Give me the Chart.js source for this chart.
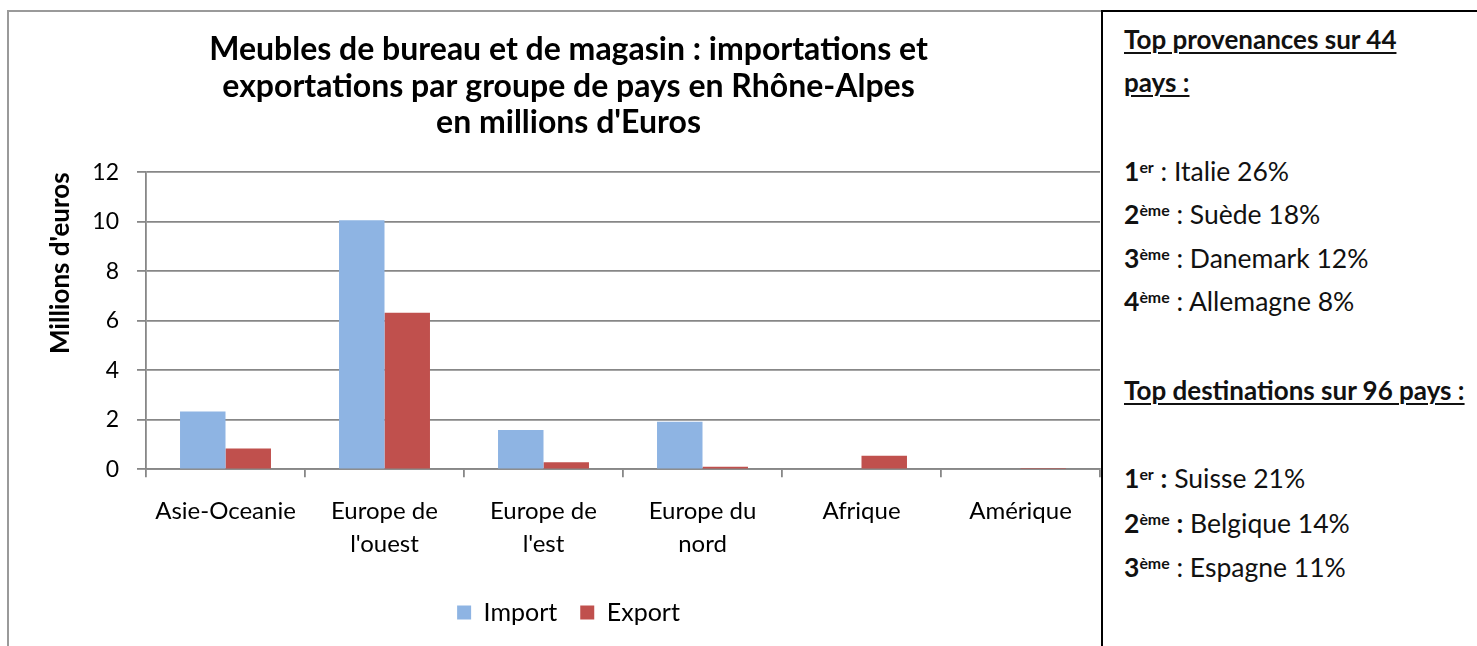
<!DOCTYPE html>
<html>
<head>
<meta charset="utf-8">
<script src="https://cdn.jsdelivr.net/npm/chart.js@4.4.1/dist/chart.umd.min.js"></script>
<style>
  html, body { margin: 0; padding: 0; background: #fff; width: 1477px; height: 646px; overflow: hidden; }
  #frame { position: absolute; left: 7px; top: 10px; width: 1100px; height: 700px; border: 2px solid #9a9a9a; box-sizing: border-box; }
  #wrap { position: absolute; left: 9px; top: 12px; width: 1119px; height: 634px; }
  #panel { position: absolute; left: 1101px; top: 10px; width: 376px; height: 640px; background: #fff;
           border-left: 2px solid #000; border-top: 2px solid #000; box-sizing: border-box; z-index: 2;
           font-family: Lato, "Open Sans", sans-serif; color: #111; }
  .ln { position: absolute; left: 21px; white-space: nowrap; font-size: 26.5px; line-height: 1; }
  .hd { font-weight: bold; font-size: 26px; text-decoration: underline; text-underline-offset: 3px; text-decoration-thickness: 2px; }
  .ln b { font-weight: bold; }
  .ln sup { font-size: 0.6em; font-weight: bold; vertical-align: 0.5em; line-height: 0; }
</style>
</head>
<body>
<div id="frame"></div>
<div id="wrap"><canvas id="c" width="1119" height="634"></canvas></div>
<div id="panel"></div>
<script>
const chartTitle = ["Meubles de bureau et de magasin : importations et", "exportations par groupe de pays en Rhône-Alpes", "en millions d'Euros"];
const yAxisTitle = "Millions d'euros";
const categories = [["Asie-Oceanie"], ["Europe de", "l'ouest"], ["Europe de", "l'est"], ["Europe du", "nord"], ["Afrique"], ["Amérique"]];
const seriesNames = ["Import", "Export"];
const importValues = [2.34, 10.06, 1.59, 1.92, 0, 0];
const exportValues = [0.84, 6.33, 0.28, 0.10, 0.55, 0.05];
const yMin = 0, yMax = 12, yStep = 2;

const provHeading = ["Top provenances sur 44", "pays :"];
const provRanks = ["1", "2", "3", "4"];
const provSup = ["er", "ème", "ème", "ème"];
const provItems = ["Italie 26%", "Suède 18%", "Danemark 12%", "Allemagne 8%"];
const destHeading = "Top destinations sur 96 pays :";
const destRanks = ["1", "2", "3"];
const destSup = ["er", "ème", "ème"];
const destItems = ["Suisse 21%", "Belgique 14%", "Espagne 11%"];
const destBoldColon = [true, true, false];

// Right panel (text)
const panel = document.getElementById('panel');
function addLine(html, baseline, cls, size) {
  const d = document.createElement('div');
  d.className = 'ln' + (cls ? ' ' + cls : '');
  d.innerHTML = html;
  d.style.top = (baseline - 10 - 0.887 * size) + 'px';
  panel.appendChild(d);
}
addLine(provHeading[0], 47, 'hd', 26);
addLine(provHeading[1], 90, 'hd', 26);
const provBase = [180, 223, 267, 310];
provItems.forEach((t, i) => addLine('<b>' + provRanks[i] + '</b><sup>' + provSup[i] + '</sup> : ' + t, provBase[i], '', 26.5));
addLine(destHeading, 398, 'hd', 26);
const destBase = [487, 532, 576];
destItems.forEach((t, i) => addLine('<b>' + destRanks[i] + '</b><sup>' + destSup[i] + '</sup> ' + (destBoldColon[i] ? '<b>:</b>' : ':') + ' ' + t, destBase[i], '', 26.5));

const gridGray = '#878787';
const FONT = 'Lato, "Open Sans", sans-serif';
Chart.defaults.color = '#000';
Chart.defaults.font.family = FONT;

new Chart(document.getElementById('c'), {
  type: 'bar',
  data: {
    labels: categories,
    datasets: [
      { label: seriesNames[0], data: importValues, backgroundColor: '#8EB4E3', borderWidth: 0, yAxisID: 'y' },
      { label: seriesNames[1], data: exportValues, backgroundColor: '#C0504D', borderWidth: 0, yAxisID: 'y' }
    ]
  },
  options: {
    responsive: false,
    devicePixelRatio: 1,
    animation: false,
    layout: { padding: { left: 0, right: 0, top: 0, bottom: 11 } },
    datasets: { bar: { categoryPercentage: 0.572, barPercentage: 1.0 } },
    plugins: {
      tooltip: { enabled: false },
      title: {
        display: true,
        text: chartTitle,
        color: '#000',
        font: { family: FONT, size: 32, weight: 'bold', lineHeight: 36.5 / 32 },
        padding: { top: 19.8, bottom: 31 }
      },
      legend: {
        position: 'bottom',
        labels: { font: { family: FONT, size: 25 }, boxWidth: 14, boxHeight: 14, padding: 23, color: '#000' }
      }
    },
    scales: {
      x: {
        grid: { display: true, drawOnChartArea: false, drawTicks: true, tickLength: 8, offset: true, color: gridGray, lineWidth: 1.8 },
        border: { display: true, color: gridGray, width: 1.8 },
        ticks: { font: { family: FONT, size: 24, lineHeight: 33 / 24 }, color: '#000', padding: 17, maxRotation: 0, autoSkip: false },
        afterFit(s) { s.height = 634 - 11 - s.chart.legend.height - 457.3; }
      },
      y: {
        min: yMin, max: yMax,
        ticks: { stepSize: yStep, font: { family: FONT, size: 23 }, color: '#000', padding: 18 },
        grid: { color: gridGray, lineWidth: 1.8, tickLength: 9, drawTicks: true },
        border: { display: true, color: gridGray, width: 1.8 },
        title: { display: true, text: yAxisTitle, align: 'end', color: '#000',
                 font: { family: FONT, size: 26, weight: 'bold', lineHeight: 1.2 }, padding: { top: 36.4, bottom: 0 } },
        afterFit(s) { s.width = 137; }
      },
      yRight: {
        type: 'linear', position: 'right', display: true,
        grid: { drawOnChartArea: false, drawTicks: false },
        border: { display: false },
        ticks: { display: false },
        afterFit(s) { s.width = 28; }
      }
    }
  }
});
</script>
</body>
</html>
